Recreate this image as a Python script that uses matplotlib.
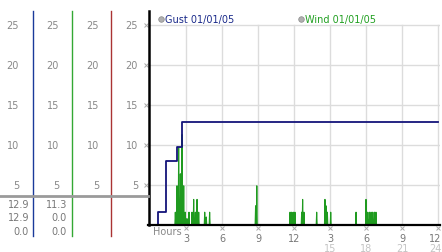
import matplotlib
matplotlib.use('Agg')
import matplotlib.pyplot as plt
import matplotlib.transforms as mtrans

# data
gust_hours = [0, 0.7, 1.35, 2.25, 2.65, 24]
gust_speed = [0, 1.6, 8.0, 9.7, 12.9, 12.9]

wind_hours = [2.11, 2.25, 2.39, 2.53, 2.67, 2.81, 2.94, 3.08, 3.25, 3.50, 3.64, 3.78, 3.92, 4.06,
              4.56, 4.69, 4.97, 8.80, 8.90, 11.67, 11.81, 11.94, 12.08, 12.64, 12.72, 12.83,
              13.89, 14.58, 14.67, 14.78, 15.06, 17.17, 18.00, 18.14, 18.28, 18.42, 18.56,
              18.70, 18.83]
wind_speed = [1.6, 4.9, 9.7, 6.4, 11.3, 4.9, 1.6, 0.8, 1.6, 1.6, 3.2, 1.6, 3.2, 1.6,
              1.6, 1.0, 1.6, 2.4, 4.9, 1.6, 1.6, 1.6, 1.6, 1.6, 3.2, 1.6,
              1.6, 3.2, 2.4, 1.6, 1.6, 1.6, 3.2, 1.6, 1.6, 1.6, 1.6,
              1.6, 1.6]

y_ticks = [5, 10, 15, 20, 25]
x_ticks = [3, 6, 9, 12, 15, 18, 21, 24]
x_labels = ['3', '6', '9', '12', '3', '6', '9', '12']
x_labels2 = {15: '15', 18: '18', 21: '21', 24: '24'}

gust_summary = ['12.9', '12.9', '0.0']
wind_summary = ['11.3', '0.0', '0.0']

W, H = 442, 253
fig = plt.figure(figsize=(W / 100, H / 100), dpi=100)
ax = fig.add_axes([148 / W, (H - 226) / H, (440 - 148) / W, 214 / H])
ax.set_xlim(-2 / 12, 24 + 2 / 12)
ax.set_ylim(0, 26.75)
ax.axis('off')

# pixel coords (from top-left) of the whole figure
px = mtrans.Affine2D().scale(1 / W, -1 / H).translate(0, 1) + fig.transFigure
x_data_y_px = mtrans.blended_transform_factory(ax.transData, px)
x_px_y_data = mtrans.blended_transform_factory(px, ax.transData)

grid_c = '#dcdcdc'
for y in y_ticks:
    ax.axhline(y, color=grid_c, lw=1, zorder=0)
for x in x_ticks:
    ax.plot([x, x], [0, 25], color=grid_c, lw=1, zorder=0)

# wind spikes
wx, wy = [0], [0]
for h, v in zip(wind_hours, wind_speed):
    wx += [h - 0.04, h, h + 0.04]
    wy += [0, v, 0]
wx.append(24)
wy.append(0)
ax.plot(wx, wy, color='#1f9a1f', lw=0.8, zorder=2)

ax.step(gust_hours, gust_speed, where='post', color='#14147a', lw=1.3, zorder=3)

# axis lines
fig.add_artist(plt.Line2D([148.5, 148.5], [12, 226], transform=px, color='black', lw=1.8))
ax.plot([-2 / 12, 24 + 2 / 12], [0, 0], color='black', lw=1.6, zorder=4, clip_on=False)

# tick marks
ax.plot([-0.3] * len(y_ticks), y_ticks, ls='none', marker='x', ms=2.5, mew=0.7,
        color='#aaaaaa', clip_on=False)
ax.plot(x_ticks, [-0.4] * len(x_ticks), ls='none', marker='x', ms=2.5, mew=0.7,
        color='#aaaaaa', clip_on=False)

for x, lab in zip(x_ticks, x_labels):
    ha = 'right' if x == 24 else 'center'
    xx = 24 + 0.3 if x == 24 else x
    ax.text(xx, 239, lab, transform=x_data_y_px, ha=ha, va='center',
            fontsize=7, color='#777777')
for x, lab in x_labels2.items():
    ha = 'right' if x == 24 else 'center'
    xx = 24 + 0.3 if x == 24 else x
    ax.text(xx, 249, lab, transform=x_data_y_px, ha=ha, va='center',
            fontsize=7, color='#c4c4c4')
fig.text(153, 232, 'Hours', transform=px, ha='left', va='center', fontsize=7, color='#888888')

# legend
fig.add_artist(plt.Line2D([161], [20], transform=px, marker='o', ms=4, color='#b0b0b0',
                          mec='#888888', mew=0.5))
fig.text(165, 20, 'Gust 01/01/05', transform=px, ha='left', va='center', fontsize=7,
         color='#1a2a8a')
fig.add_artist(plt.Line2D([301], [20], transform=px, marker='o', ms=4, color='#b0b0b0',
                          mec='#888888', mew=0.5))
fig.text(305, 20, 'Wind 01/01/05', transform=px, ha='left', va='center', fontsize=7,
         color='#22a022')

# left scale columns
for right in [19, 59, 99, 138]:
    for y in y_ticks:
        fig.text(right, y, str(y), transform=x_px_y_data, ha='right', va='center',
                 fontsize=7, color='#888888')
for xl, c in zip([33, 72, 111], ['#1a3a9a', '#33a833', '#aa3333']):
    fig.add_artist(plt.Line2D([xl, xl], [12, 237], transform=px, color=c, lw=1))
fig.add_artist(plt.Line2D([0, 148], [197, 197], transform=px, color='#9a9a9a', lw=2))

for yy, g, w in zip([205, 218.5, 232], gust_summary, wind_summary):
    fig.text(29, yy, g, transform=px, ha='right', va='center', fontsize=7, color='#777777')
    fig.text(67, yy, w, transform=px, ha='right', va='center', fontsize=7, color='#777777')

fig.savefig('out.png', dpi=100, facecolor='white')
